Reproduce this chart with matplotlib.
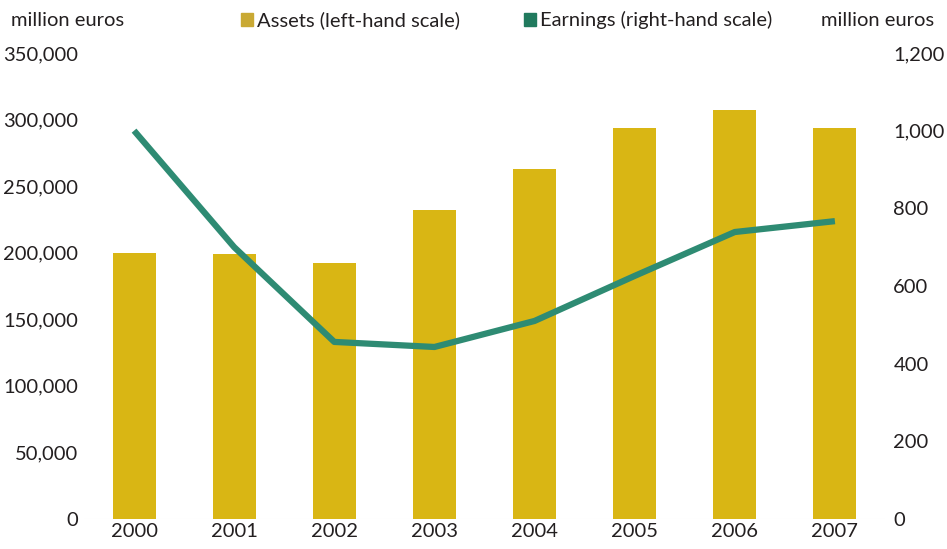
import numpy as np
import matplotlib.pyplot as plt
from matplotlib.patches import Patch
from matplotlib.ticker import FuncFormatter

plt.rcParams['font.family'] = ['Lato', 'DejaVu Sans']

# datos
years = ['2000', '2001', '2002', '2003', '2004', '2005', '2006', '2007']
assets = [200000, 199000, 192000, 232000, 263000, 294000, 307000, 294000]
earnings = [1000, 700, 456, 443, 510, 626, 739, 767]

bar_color = '#D9B614'
line_color = '#2E8B73'
txt = '#231F20'
fs = 14.5

fig = plt.figure(figsize=(9.47, 5.49), dpi=100)
ax = fig.add_axes([0.0887, 0.0546, 0.8458, 0.8489])
ax2 = ax.twinx()

x = np.arange(len(years))
ax.bar(x, assets, width=0.43, color=bar_color, zorder=2)
ax2.plot(x, earnings, color=line_color, lw=4.5, solid_capstyle='butt', zorder=3)

ax.set_xlim(-0.5, len(years) - 0.5)
ax.set_ylim(0, 350000)
ax2.set_ylim(0, 1200)
ax.set_yticks(np.arange(0, 350001, 50000))
ax2.set_yticks(np.arange(0, 1201, 200))
fmt = FuncFormatter(lambda v, p: f'{int(v):,}')
ax.yaxis.set_major_formatter(fmt)
ax2.yaxis.set_major_formatter(fmt)
ax.set_xticks(x)
ax.set_xticklabels(years)

for a in (ax, ax2):
    for s in a.spines.values():
        s.set_visible(False)
    a.tick_params(length=0, labelsize=fs, colors=txt)
ax.tick_params(axis='y', pad=4)
ax2.tick_params(axis='y', pad=6)
ax.tick_params(axis='x', pad=3)
ax.axhline(0, color='#EEEEEE', lw=0.8, zorder=1)

fig.text(0.012, 0.963, 'million euros', fontsize=fs, color=txt, va='center', ha='left')
fig.text(0.986, 0.963, 'million euros', fontsize=fs, color=txt, va='center', ha='right')

handles = [Patch(color='#C9A934', label='Assets (left-hand scale)'),
           Patch(color='#217A5E', label='Earnings (right-hand scale)')]
fig.legend(handles=handles, loc='center left', bbox_to_anchor=(0.254, 0.963), ncol=2,
           frameon=False, fontsize=fs, handlelength=0.6, handleheight=0.6,
           handletextpad=0.2, columnspacing=3.2, labelcolor=txt,
           borderpad=0, borderaxespad=0)

plt.savefig('out.png', dpi=100)
